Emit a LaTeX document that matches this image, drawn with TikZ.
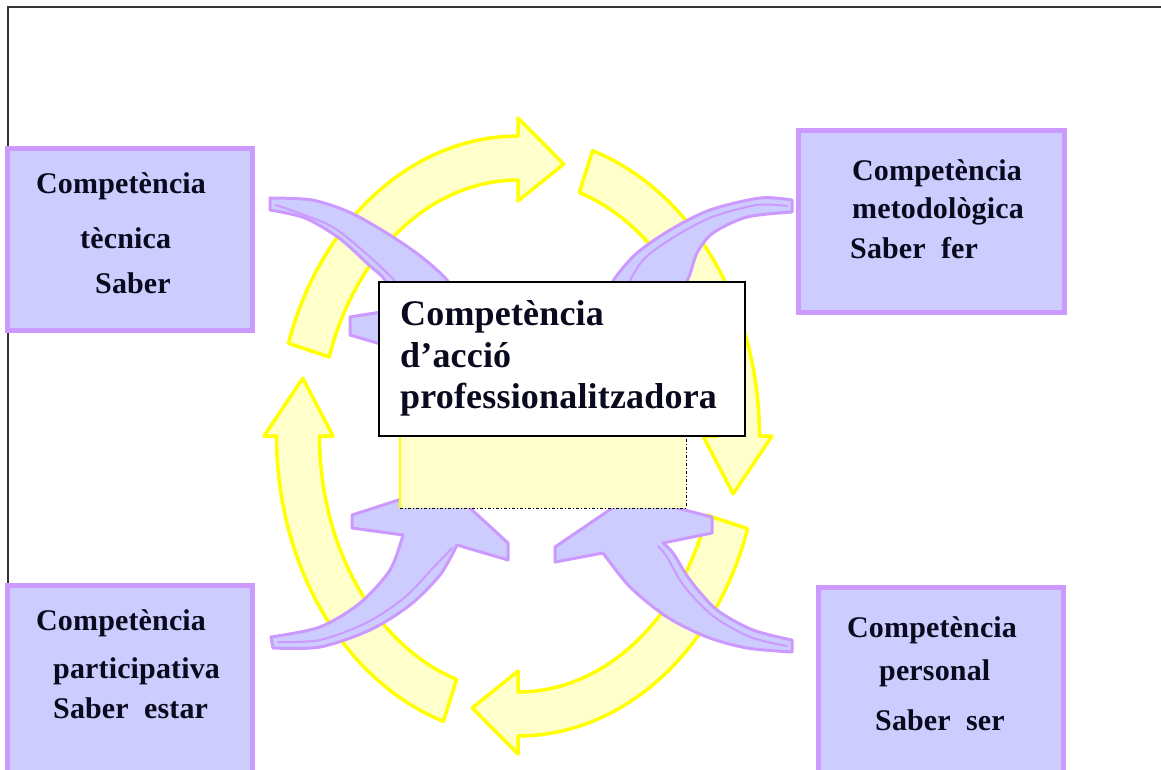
\documentclass[tikz,border=0pt]{standalone}
\usepackage{fontspec}
\setmainfont{Liberation Serif}
\newfontfamily\boxfont[LetterSpace=0.5]{Liberation Serif}
\newfontfamily\mainboxfont[LetterSpace=0.5]{Liberation Serif}
\definecolor{pfill}{HTML}{CCCCFF}
\definecolor{pline}{HTML}{CC99FF}
\definecolor{yfill}{HTML}{FFFFCC}
\definecolor{yline}{HTML}{FFFF00}
\definecolor{tcol}{HTML}{0A0A1E}
\tikzset{
  yarrow/.style={fill=yfill, draw=yline, line width=3.5pt, line join=round},
  parrow/.style={fill=pfill, draw=pline, line width=3pt, line join=round},
  pribbon/.style={draw=pline, line width=2pt, line cap=round},
  pbox/.style={rectangle, fill=pfill, draw=pline, line width=5pt, inner sep=0pt},
  btxt/.style={anchor=base west, inner sep=0pt, text=tcol, font=\boxfont\bfseries\fontsize{30}{36}\selectfont},
  ctxt/.style={anchor=base west, inner sep=0pt, text=tcol, font=\mainboxfont\bfseries\fontsize{36}{43}\selectfont},
}
\begin{document}
\begin{tikzpicture}[x=1pt, y=-1pt]
\useasboundingbox (0,0) rectangle (1161,769);
% outer frame
\draw[line width=2pt, black!80] (7.5,769) -- (7.5,6.5) -- (1161,6.5);
% yellow circular arrows
\foreach \b in {270,360,450,540}{
  \pgfmathsetmacro\ta{\b-72}
  \pgfmathsetmacro\tp{\b+12}
  \filldraw[yarrow] plot[domain=\ta:\b,samples=40] ({518+241.5*cos(\x)},{436+300*sin(\x)})
    -- ({518+254*cos(\b)},{436+318*sin(\b)})
    -- ({518+220*cos(\tp)},{436+278*sin(\tp)})
    -- ({518+185*cos(\b)},{436+235*sin(\b)})
    -- plot[domain=\b:\ta,samples=40] ({518+198.5*cos(\x)},{436+256*sin(\x)})
    -- cycle;
}
% purple curved arrows
% top-left
\filldraw[parrow] plot[smooth] coordinates {(270,198) (312,200) (349,212) (385,232) (419,255) (447,280) (458,303)}
  -- (508,288) -- (508,305) -- (445,363) -- (350,335) -- (350,317) -- (400,309)
  -- plot[smooth] coordinates {(400,309) (385,280) (369,265) (339,238) (305,218) (270,210)} -- cycle;
\draw[pribbon] plot[smooth] coordinates {(276,205) (329,225) (362,250) (392,278) (408,300)};
% top-right
\filldraw[parrow] plot[smooth] coordinates {(792,200) (760,198) (710,210) (670,230) (637,253) (615,278) (600,305)}
  -- (555,290) -- (555,305) -- (615,365) -- (710,335) -- (710,320) -- (665,310)
  -- plot[smooth] coordinates {(665,310) (687,281) (697,253) (713,233) (747,217) (792,212)} -- cycle;
\draw[pribbon] plot[smooth] coordinates {(787,206) (757,205) (712,217) (674,237) (643,260) (625,290)};
% bottom-left
\filldraw[parrow] plot[smooth] coordinates {(271,637) (320,627) (360,603) (390,570) (403,535)}
  -- (352,528) -- (352,515) -- (445,485) -- (508,543) -- (508,560) -- (457,545)
  -- plot[smooth] coordinates {(457,545) (440,575) (410,605) (370,630) (320,647) (273,648)} -- cycle;
\draw[pribbon] plot[smooth] coordinates {(278,642) (320,640) (366,623) (404,598) (433,568) (452,548)};
% bottom-right
\filldraw[parrow] plot[smooth] coordinates {(792,640) (753,630) (717,610) (690,580) (673,553) (663,543)}
  -- (712,533) -- (712,517) -- (630,496) -- (555,547) -- (555,562) -- (603,553)
  -- plot[smooth] coordinates {(603,553) (630,587) (667,617) (707,637) (747,648) (792,652)} -- cycle;
\draw[pribbon] plot[smooth] coordinates {(787,646) (750,637) (713,616) (684,586) (667,557) (658,546)};
% yellow rectangle below centre box
\fill[yfill] (400,437) rectangle (686,508);
\draw[yline, line width=1.5pt] (400,437) -- (400,508);
\draw[black, line width=1pt, dash dot] (400,508) -- (686,508) -- (686,437);
% centre box
\node[rectangle, fill=white, draw=black, line width=2pt, minimum width=366pt, minimum height=154pt, inner sep=0pt] (centre) at (562,359) {};
\node[ctxt] (c1) at (400,325) {Competència};
\node[ctxt] (c2) at (400,367) {d’acció};
\node[ctxt] (c3) at (400,408) {professionalitzadora};
% four competence boxes
\node[pbox, minimum width=245pt, minimum height=182pt] (tec) at (130,239.5) {};
\node[btxt] (tec1) at (36,193) {Competència};
\node[btxt] (tec2) at (80,248) {tècnica};
\node[btxt] (tec3) at (95,293) {Saber};
\node[pbox, minimum width=266pt, minimum height=182pt] (met) at (931.5,221.5) {};
\node[btxt] (met1) at (852,180) {Competència};
\node[btxt] (met2) at (852,218) {metodològica};
\node[btxt] (met3) at (850,258) {Saber\ \ fer};
\node[pbox, minimum width=245pt, minimum height=214.5pt] (par) at (130,692.75) {};
\node[btxt] (par1) at (36,630) {Competència};
\node[btxt] (par2) at (53,678) {participativa};
\node[btxt] (par3) at (53,718) {Saber\ \ estar};
\node[pbox, minimum width=245pt, minimum height=212.5pt] (per) at (941,693.75) {};
\node[btxt] (per1) at (847,637) {Competència};
\node[btxt] (per2) at (879,680) {personal};
\node[btxt] (per3) at (875,730) {Saber\ \ ser};
\end{tikzpicture}
\end{document}
